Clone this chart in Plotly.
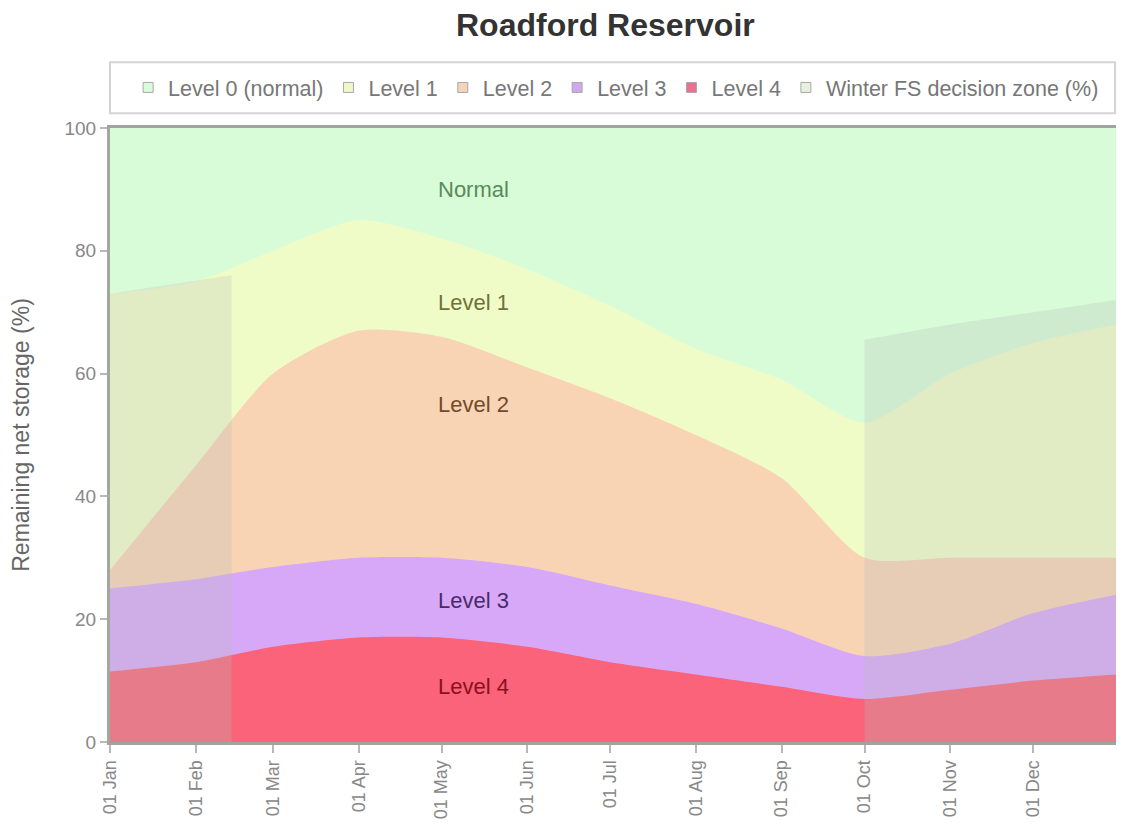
import plotly.graph_objects as go

# ---- data ----
dates = ["2023-01-01", "2023-02-01", "2023-03-01", "2023-04-01", "2023-05-01", "2023-06-01",
         "2023-07-01", "2023-08-01", "2023-09-01", "2023-10-01", "2023-11-01", "2023-12-01",
         "2023-12-31"]
normal_top = [100] * len(dates)
level1_top = [73, 75, 80, 85, 82, 77, 71, 64, 59, 52, 60, 65, 68]
level2_top = [28, 45, 60, 67, 66, 61, 56, 50, 43, 30, 30, 30, 30]
level3_top = [25, 26.5, 28.5, 30, 30, 28.5, 25.5, 22.5, 18.5, 14, 16, 21, 24]
level4_top = [11.5, 13, 15.5, 17, 17, 15.5, 13, 11, 9, 7, 8.5, 10, 11]

winter_a_dates = ["2023-01-01", "2023-02-14"]
winter_a_top = [73, 76]
winter_b_dates = ["2023-10-01", "2023-11-01", "2023-12-01", "2023-12-31"]
winter_b_top = [65.5, 68, 70, 72]

series_names = ["Level 0 (normal)", "Level 1", "Level 2", "Level 3", "Level 4",
                "Winter FS decision zone (%)"]
zone_labels = ["Normal", "Level 1", "Level 2", "Level 3", "Level 4"]
zone_label_y = [90, 71.5, 55, 23, 9]

# ---- styles ----
fills = ["#d8fcd8", "#f0fcc8", "#f8d4b4", "#d8a8f8", "#fa6379"]
legend_cols = ["#d8fcd8", "#eef8c8", "#f4d4b8", "#d0a8ec", "#e87090", "#e8f0e0"]
label_cols = ["#5a8a5a", "#70703a", "#704a2a", "#4a2a6a", "#8a1020"]
winter_fill = "rgba(186,190,186,0.27)"
FONT = "Liberation Sans, Arial, sans-serif"

fig = go.Figure()

tops = [normal_top, level1_top, level2_top, level3_top, level4_top]
for i, top in enumerate(tops):
    fig.add_trace(go.Scatter(
        x=dates, y=top, mode="lines", fill="tozeroy",
        fillcolor=fills[i], line=dict(width=0, shape="spline", smoothing=0.7),
        showlegend=False, hoverinfo="skip"))

fig.add_trace(go.Scatter(
    x=winter_a_dates, y=winter_a_top, mode="lines", fill="tozeroy",
    fillcolor=winter_fill, line=dict(width=0), showlegend=False, hoverinfo="skip"))
fig.add_trace(go.Scatter(
    x=winter_b_dates, y=winter_b_top, mode="lines", fill="tozeroy",
    fillcolor=winter_fill, line=dict(width=0, shape="spline", smoothing=0.7),
    showlegend=False, hoverinfo="skip"))

# legend entries
for name, col in zip(series_names, legend_cols):
    fig.add_trace(go.Scatter(
        x=[None], y=[None], mode="markers", name=name,
        marker=dict(symbol="square", size=10, color=col,
                    line=dict(color="#a8a8a8", width=1))))

for txt, yv, col in zip(zone_labels, zone_label_y, label_cols):
    fig.add_annotation(x="2023-04-29", y=yv, text=txt, showarrow=False,
                       xanchor="left", yanchor="middle",
                       font=dict(family=FONT, size=22, color=col))

# legend box
fig.add_shape(type="rect", xref="paper", yref="paper", x0=0, x1=0.999,
              y0=1.024, y1=1.107, line=dict(color="#d4d4d4", width=2),
              fillcolor="rgba(0,0,0,0)", layer="below")

fig.add_annotation(xref="paper", yref="paper", x=0.493, y=1.168,
                   text="<b>Roadford Reservoir</b>", showarrow=False,
                   xanchor="center", yanchor="middle",
                   font=dict(family=FONT, size=32, color="#333333"))

fig.update_layout(
    width=1108, height=813,
    margin=dict(l=102, r=0, t=120, b=79, autoexpand=False),
    paper_bgcolor="white", plot_bgcolor="white",
    font=dict(family=FONT, color="#777777"),
    legend=dict(orientation="h", x=0.018, xanchor="left", y=1.066, yanchor="middle",
                font=dict(family=FONT, size=21.5, color="#777777"),
                bgcolor="rgba(0,0,0,0)", itemclick=False),
)
fig.update_xaxes(
    type="date", range=["2023-01-01", "2023-12-31"], automargin=False,
    tickmode="linear", tick0="2023-01-01", dtick="M1", tickformat="%d %b",
    tickangle=-90, ticks="outside", ticklen=8, tickwidth=2, tickcolor="#b8b8b8",
    tickfont=dict(family=FONT, size=18, color="#888888"),
    showgrid=False, zeroline=False,
    showline=True, linecolor="#a0a4a0", linewidth=3, mirror=True)
fig.update_yaxes(
    range=[0, 100], dtick=20, ticks="outside", ticklen=7, tickwidth=2, tickcolor="#b8b8b8",
    tickfont=dict(family=FONT, size=19, color="#888888"), automargin=False,
    showgrid=False, zeroline=False,
    showline=True, linecolor="#a0a8a0", linewidth=3,
    title=dict(text="Remaining net storage (%)", standoff=29,
               font=dict(family=FONT, size=23, color="#666666")))

fig.write_html("out.html")
